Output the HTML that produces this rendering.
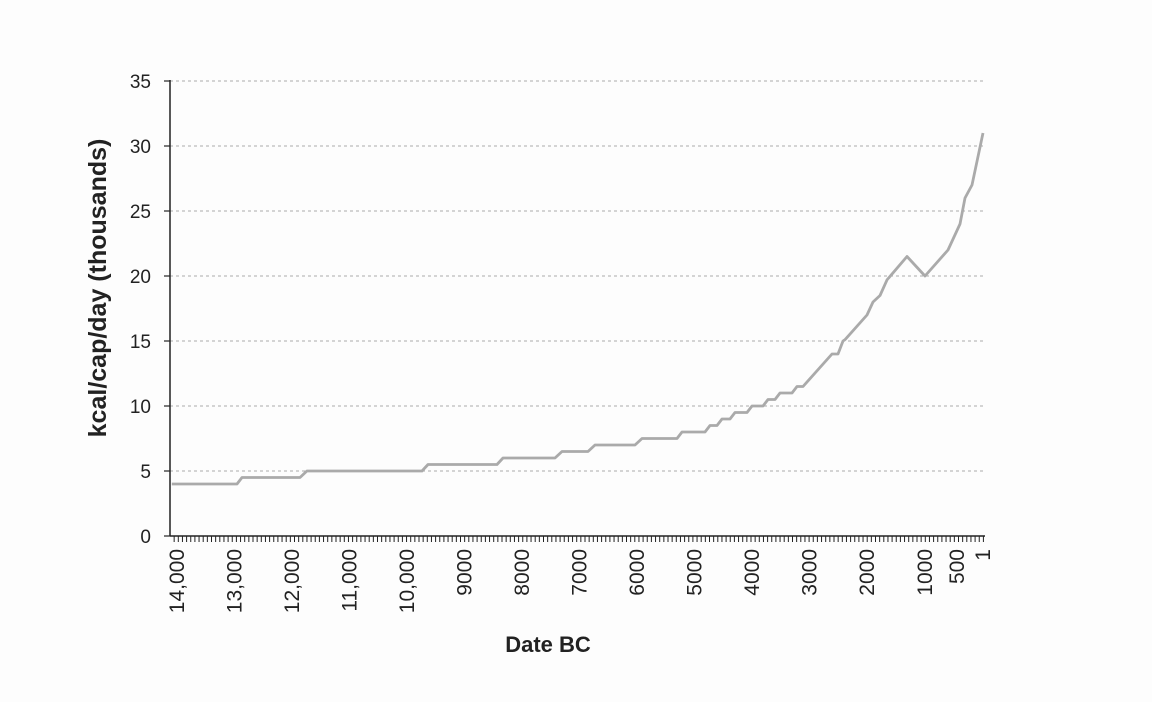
<!DOCTYPE html>
<html><head><meta charset="utf-8"><style>
body{margin:0;background:#fdfdfd;}
svg{display:block;font-family:"Liberation Sans",sans-serif;}
</style></head><body>
<svg id="chart" width="1152" height="702" viewBox="0 0 1152 702" xmlns="http://www.w3.org/2000/svg">
<rect width="1152" height="702" fill="#fdfdfd"/>
<g id="grid"></g><g id="axes"></g><g id="series"></g>
<text transform="translate(106,288) rotate(-90)" text-anchor="middle" font-size="25" font-weight="bold" fill="#222">kcal/cap/day (thousands)</text>
<text x="548" y="652" text-anchor="middle" font-size="22" font-weight="bold" fill="#222">Date BC</text>
</svg>
<script>
const years=[14090,12957,12870,11861,11740,9739,9635,8435,8330,7426,7304,6852,6730,6035,5913,5304,5217,4817,4730,4609,4522,4383,4296,4087,4000,3809,3722,3600,3513,3304,3217,3113,2609,2504,2417,2383,2000,1897,1776,1655,1310,1000,641,500,442,346,212,1];
const values=[4,4,4.5,4.5,5,5,5.5,5.5,6,6,6.5,6.5,7,7,7.5,7.5,8,8,8.5,8.5,9,9,9.5,9.5,10,10,10.5,10.5,11,11,11.5,11.5,14,14,15,15.1,17,18,18.5,19.7,21.5,20,22,23.5,24,26,27,31];
const yTicks=[0,5,10,15,20,25,30,35];
const xTickYears=[14000,13000,12000,11000,10000,9000,8000,7000,6000,5000,4000,3000,2000,1000,500,1];
const xTickLabels=["14,000","13,000","12,000","11,000","10,000","9000","8000","7000","6000","5000","4000","3000","2000","1000","500","1"];
const NS="http://www.w3.org/2000/svg";
const X0=170,X1=985,Y0=536,YS=13;
const segY=[14000,2000,1000,500,1],segP=[177,867,925,957,983];
function x(yr){
  if(yr>=segY[0])return segP[0]+(segY[0]-yr)/1000*57.5;
  for(let i=0;i<segY.length-1;i++){if(yr<=segY[i]&&yr>=segY[i+1])return segP[i]+(segY[i]-yr)/(segY[i]-segY[i+1])*(segP[i+1]-segP[i]);}
  return segP[segP.length-1];
}
function y(v){return Y0-v*YS;}
function el(t,a,p){const e=document.createElementNS(NS,t);for(const k in a)e.setAttribute(k,a[k]);p.appendChild(e);return e;}
const grid=document.getElementById('grid'),axes=document.getElementById('axes'),series=document.getElementById('series');
yTicks.forEach(v=>{
  if(v>0){const g=el('line',{x1:X0,x2:X1,y1:y(v),y2:y(v),stroke:'#aaa','stroke-width':1,'stroke-dasharray':'3,3'},grid);
  
  }
  const t=el('line',{x1:X0-6,x2:X0,y1:y(v),y2:y(v),stroke:'#222','stroke-width':1.2},axes);
  
  
  const l=el('text',{x:151,y:y(v)+7,'text-anchor':'end','font-size':19,fill:'#222'},axes);l.textContent=v;
  
  
});
const ya=el('line',{x1:X0,x2:X0,y1:80,y2:Y0,stroke:'#222','stroke-width':1.5},axes);


const xa=el('line',{x1:X0,x2:X1,y1:Y0,y2:Y0,stroke:'#222','stroke-width':1.5},axes);


for(let px=X0+4.15;px<=X1+0.5;px+=4.15){
  const m=el('line',{x1:px,x2:px,y1:Y0,y2:Y0+6,stroke:'#222','stroke-width':1},axes);
  
  
}
xTickYears.forEach((yr,i)=>{
  const px=x(yr);
  const t=el('text',{transform:`translate(${px+7},549) rotate(-90)`,'text-anchor':'end','font-size':21,fill:'#222'},axes);
  t.textContent=xTickLabels[i];
  
  
});
const d=years.map((yr,i)=>(i?'L':'M')+x(yr).toFixed(1)+','+y(values[i]).toFixed(1)).join(' ');
const p=el('path',{d:d,fill:'none',stroke:'#aaa','stroke-width':2.8,'stroke-linejoin':'round'},series);


</script>
</body></html>
